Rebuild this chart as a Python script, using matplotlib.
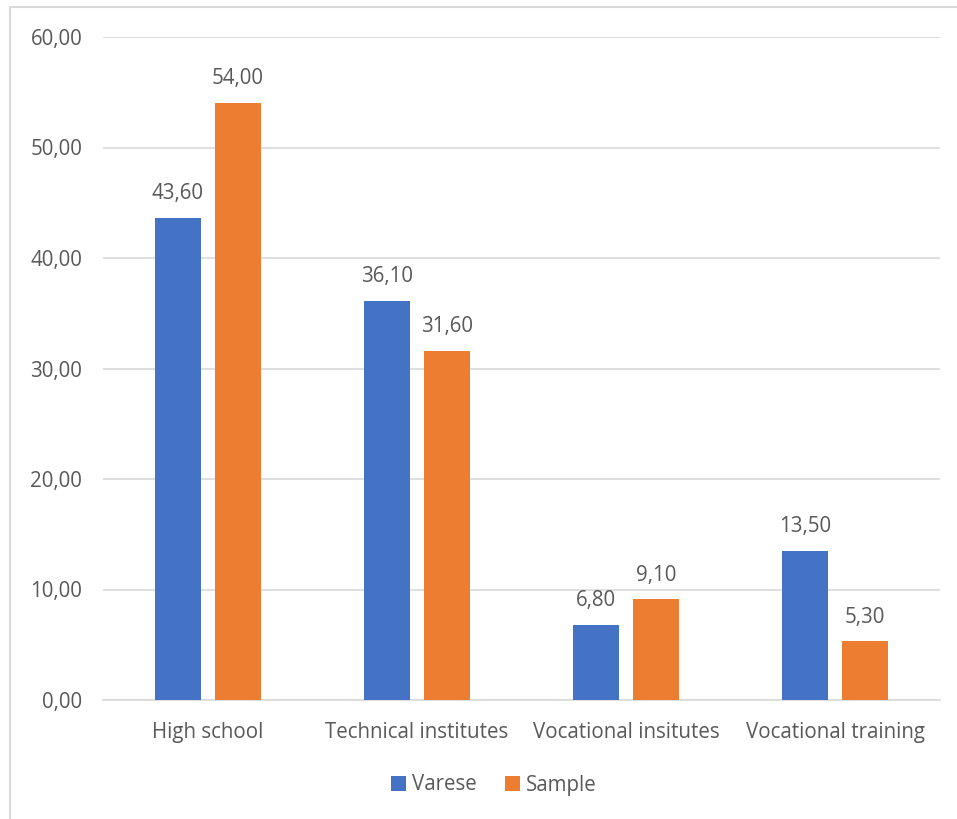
import matplotlib.pyplot as plt
import numpy as np
from matplotlib.patches import Rectangle

# data
categories = ['High school', 'Technical institutes', 'Vocational insitutes', 'Vocational training']
varese = [43.60, 36.10, 6.80, 13.50]
sample = [54.00, 31.60, 9.10, 5.30]
yticks = [0, 10, 20, 30, 40, 50, 60]

blue = '#4472C4'
orange = '#ED7D31'
grey_txt = '#595959'
fs = 14.8

plt.rcParams['font.family'] = ['Open Sans', 'DejaVu Sans']

fig = plt.figure(figsize=(9.57, 8.19), dpi=100)
ax = fig.add_axes([103 / 957, 1 - 700 / 819, 837 / 957, 663 / 819])

# chart border
fig.patches.append(Rectangle((10 / 957, -0.1), 1.0, 1.1 - 7 / 819, transform=fig.transFigure,
                             fill=False, edgecolor='#D9D9D9', linewidth=1.5))

x = np.arange(len(categories))
w = 0.22
off = 0.143
b1 = ax.bar(x - off, varese, w, color=blue, label='Varese', zorder=3)
b2 = ax.bar(x + off, sample, w, color=orange, label='Sample', zorder=3)

for bars, vals in ((b1, varese), (b2, sample)):
    for r, v in zip(bars, vals):
        ax.annotate(f'{v:.2f}'.replace('.', ','), (r.get_x() + r.get_width() / 2, v),
                    xytext=(0, 10), textcoords='offset points', ha='center', va='bottom',
                    fontsize=fs, color=grey_txt)

ax.set_xlim(-0.5, len(categories) - 0.5)
ax.set_ylim(0, 60)
ax.set_yticks(yticks)
ax.set_yticklabels([f'{t:.2f}'.replace('.', ',') for t in yticks])
ax.set_xticks(x)
ax.set_xticklabels(categories)
ax.tick_params(axis='both', length=0, labelsize=fs, labelcolor=grey_txt)
ax.tick_params(axis='y', pad=15)
ax.tick_params(axis='x', pad=16)
ax.grid(axis='y', color='#D9D9D9', linewidth=1.2, zorder=0)
for s in ['top', 'right', 'left']:
    ax.spines[s].set_visible(False)
ax.spines['bottom'].set_color('#D9D9D9')
ax.spines['bottom'].set_linewidth(1.2)

fig.legend(handles=[b1, b2], loc='center', bbox_to_anchor=(494 / 957, 1 - 785 / 819), ncol=2,
           frameon=False, fontsize=fs, labelcolor=grey_txt, handlelength=0.7, handleheight=0.7,
           handletextpad=0.3, columnspacing=1.4)

fig.savefig('out.png', dpi=100)
